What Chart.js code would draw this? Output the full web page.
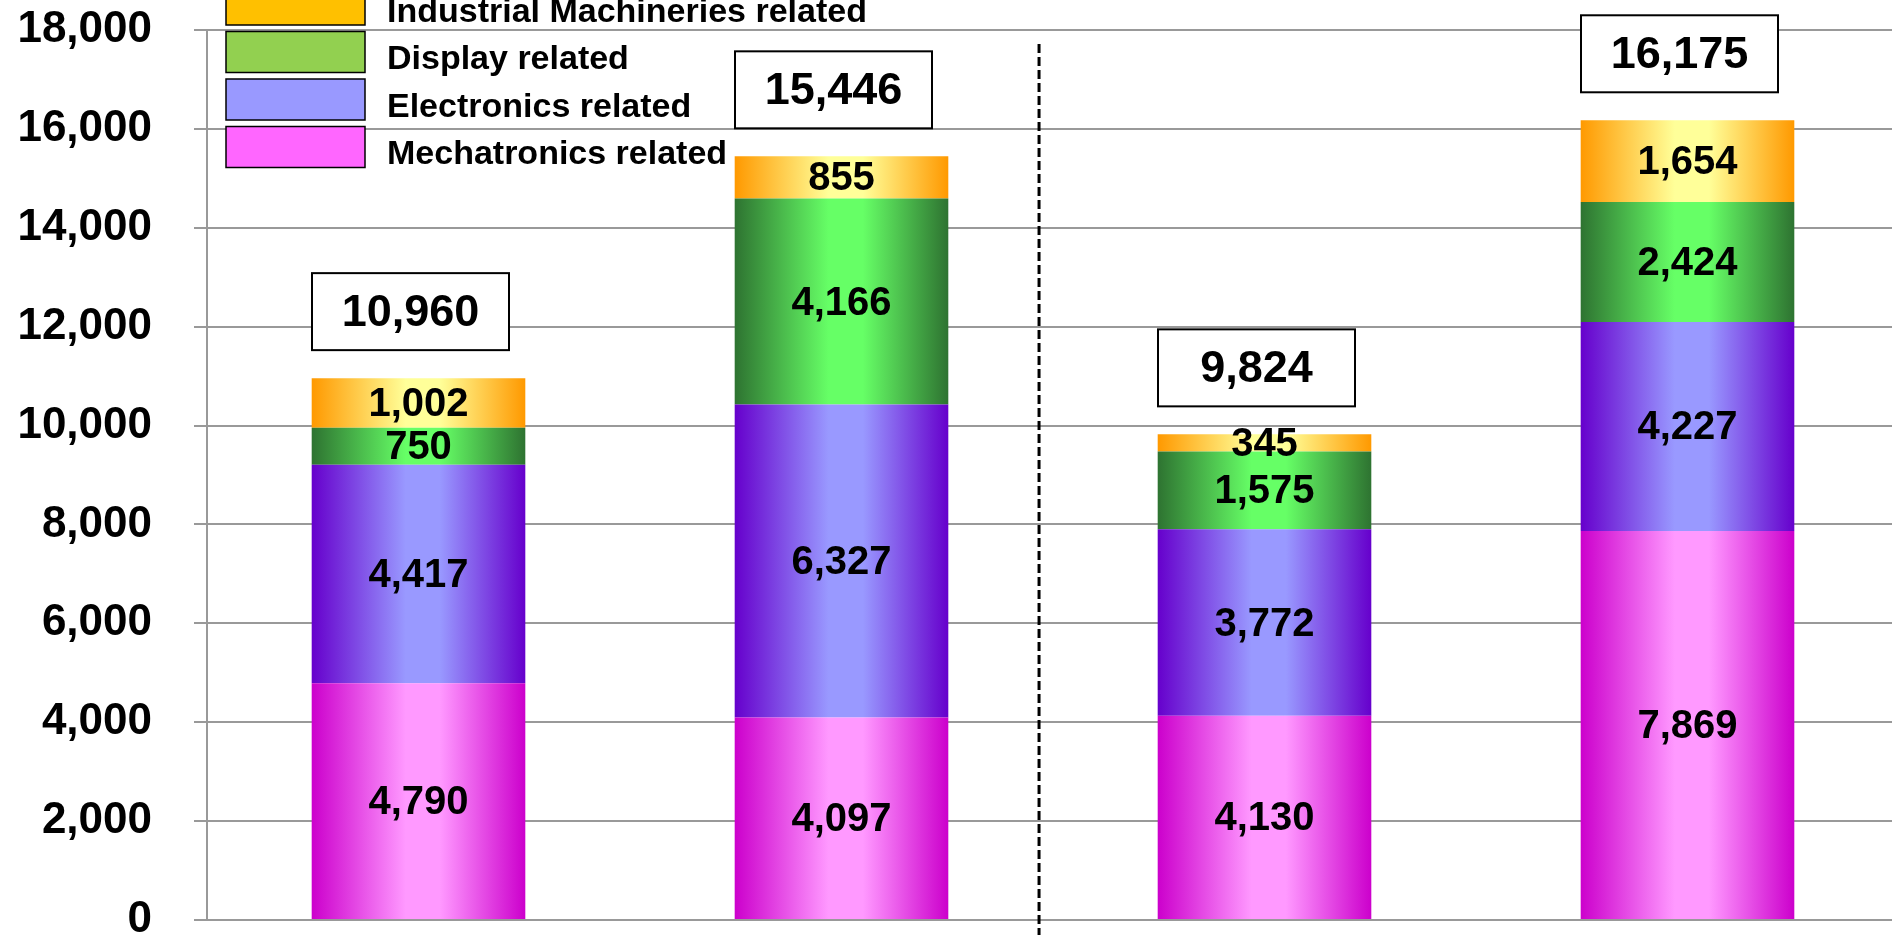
<!DOCTYPE html>
<html>
<head>
<meta charset="utf-8">
<script src="https://cdn.jsdelivr.net/npm/chart.js@4.4.1/dist/chart.umd.min.js"></script>
<style>
  html, body { margin: 0; padding: 0; overflow: hidden; background: #fff; }
  #wrap { position: absolute; left: 0; top: 0; width: 1899px; height: 935px; }
</style>
</head>
<body>
<div id="wrap"><canvas id="chart" width="1899" height="935"></canvas></div>
<script>
// ---- data ----
const categories = ['Period 1', 'Period 2', 'Period 3', 'Period 4'];
const mechatronics = [4790, 4097, 4130, 7869];
const electronics  = [4417, 6327, 3772, 4227];
const display      = [750, 4166, 1575, 2424];
const industrial   = [1002, 855, 345, 1654];
const totals       = [10960, 15446, 9824, 16175];
const yMin = 0, yMax = 18000, yStep = 2000;

// ---- styles ----
const FONT = "'Liberation Sans', Arial, Helvetica, sans-serif";
const BAR_FRACTION = 0.505;
const DIVIDER_AT = 1.467;   // between the second and third bars, in category units

const fmt = v => Number(v).toLocaleString('en-US');

// Horizontal "cylinder" shading: dark edges, light middle
function barFill(dark, light) {
  return (c) => {
    const chart = c.chart;
    const xs = chart.scales.x;
    if (!chart.chartArea || !xs || c.dataIndex === undefined) return light;
    const cx = xs.getPixelForValue(c.dataIndex);
    const half = xs.width / categories.length * BAR_FRACTION / 2;
    const g = chart.ctx.createLinearGradient(cx - half, 0, cx + half, 0);
    g.addColorStop(0, dark);
    g.addColorStop(0.44, light);
    g.addColorStop(0.6, light);
    g.addColorStop(1, dark);
    return g;
  };
}

const series = [
  { label: 'Mechatronics related',           data: mechatronics, dark: '#CC00CC', light: '#FF99FF', swatch: '#FF66FF' },
  { label: 'Electronics related',            data: electronics,  dark: '#6600CC', light: '#9999FF', swatch: '#9999FF' },
  { label: 'Display related',                data: display,      dark: '#2E7331', light: '#66FF66', swatch: '#92D050' },
  { label: 'Industrial Machineries related', data: industrial,   dark: '#FF9900', light: '#FFFF99', swatch: '#FFC000' }
];

// Values written inside each stacked segment
const segmentLabels = {
  id: 'segmentLabels',
  afterDatasetsDraw(chart) {
    const ctx = chart.ctx;
    ctx.save();
    ctx.fillStyle = '#000';
    ctx.font = `bold 40px ${FONT}`;
    ctx.textAlign = 'center';
    ctx.textBaseline = 'middle';
    chart.data.datasets.forEach((ds, i) => {
      const meta = chart.getDatasetMeta(i);
      meta.data.forEach((el, j) => {
        const p = el.getProps(['x', 'y', 'base'], true);
        ctx.fillText(fmt(ds.data[j]), p.x, (p.y + p.base) / 2 + 2);
      });
    });
    ctx.restore();
  }
};

// Boxed totals above each bar
const totalBoxes = {
  id: 'totalBoxes',
  afterDatasetsDraw(chart) {
    const ctx = chart.ctx;
    const last = chart.getDatasetMeta(chart.data.datasets.length - 1);
    const w = 197, h = 77, gap = 28;
    ctx.save();
    last.data.forEach((el, j) => {
      const p = el.getProps(['x', 'y'], true);
      const cx = p.x - 8;
      const bottom = p.y - gap;
      ctx.fillStyle = '#fff';
      ctx.fillRect(cx - w / 2, bottom - h, w, h);
      ctx.strokeStyle = '#000';
      ctx.lineWidth = 2;
      ctx.strokeRect(cx - w / 2, bottom - h, w, h);
      ctx.fillStyle = '#000';
      ctx.font = `bold 45px ${FONT}`;
      ctx.textAlign = 'center';
      ctx.textBaseline = 'middle';
      ctx.fillText(fmt(totals[j]), cx, bottom - h / 2 + 2);
    });
    ctx.restore();
  }
};

// Dashed separator between the two pairs of bars
const divider = {
  id: 'divider',
  beforeDatasetsDraw(chart) {
    const ctx = chart.ctx;
    const x = chart.scales.x.getPixelForValue(DIVIDER_AT);
    ctx.save();
    ctx.strokeStyle = '#000';
    ctx.lineWidth = 3;
    ctx.setLineDash([9, 4]);
    ctx.beginPath();
    ctx.moveTo(x, chart.chartArea.top + 14);
    ctx.lineTo(x, chart.height);
    ctx.stroke();
    ctx.restore();
  }
};

// Legend block in the upper-left corner (top entry = top segment)
const legendBlock = {
  id: 'legendBlock',
  afterDraw(chart) {
    const ctx = chart.ctx;
    const items = chart.data.datasets.slice().reverse();
    const left = 226, sw = 139, sh = 41, pitch = 47.5, top0 = -16, textX = 387;
    ctx.save();
    items.forEach((ds, i) => {
      const top = top0 + i * pitch;
      ctx.fillStyle = ds.swatch;
      ctx.fillRect(left, top, sw, sh);
      ctx.strokeStyle = '#000';
      ctx.lineWidth = 1.5;
      ctx.strokeRect(left, top, sw, sh);
      ctx.fillStyle = '#000';
      ctx.font = `bold 34px ${FONT}`;
      ctx.textAlign = 'left';
      ctx.textBaseline = 'alphabetic';
      ctx.fillText(ds.label, textX, top + sh / 2 + 17);
    });
    ctx.restore();
  }
};

new Chart(document.getElementById('chart'), {
  type: 'bar',
  data: {
    labels: categories,
    datasets: series.map(s => ({
      label: s.label,
      data: s.data,
      swatch: s.swatch,
      backgroundColor: barFill(s.dark, s.light),
      borderWidth: 0,
      barPercentage: BAR_FRACTION,
      categoryPercentage: 1
    }))
  },
  options: {
    responsive: false,
    animation: false,
    devicePixelRatio: 1,
    layout: { padding: { top: 30, bottom: 15, left: 0, right: 0 } },
    plugins: { legend: { display: false }, tooltip: { enabled: false } },
    scales: {
      x: { stacked: true, display: false },
      y: {
        stacked: true,
        min: yMin,
        max: yMax,
        ticks: {
          stepSize: yStep,
          color: '#000',
          padding: 42,
          font: { family: FONT, size: 44, weight: 'bold' },
          callback: v => fmt(v)
        },
        grid: { color: '#999', lineWidth: 2, tickLength: 13 },
        border: { display: true, color: '#999', width: 2 },
        afterFit: s => { s.width = 207; s.paddingTop = 0; s.paddingBottom = 0; }
      }
    }
  },
  plugins: [divider, segmentLabels, totalBoxes, legendBlock]
});
</script>
</body>
</html>
